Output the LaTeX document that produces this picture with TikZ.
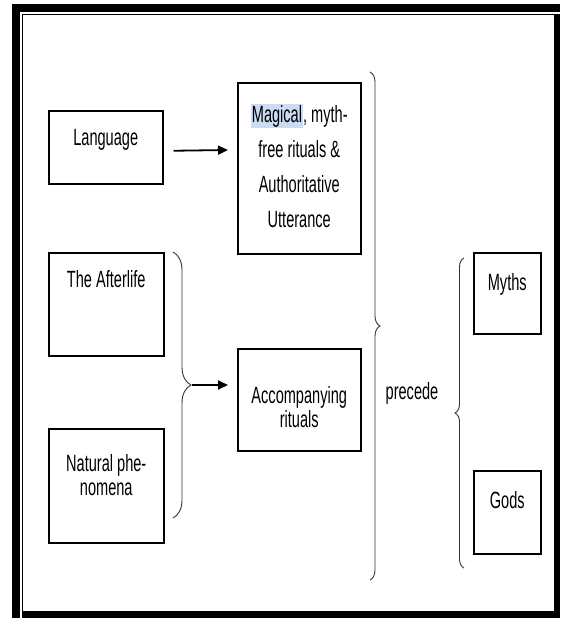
\documentclass[tikz,border=0pt]{standalone}
\usepackage{fontspec}
\setmainfont{Liberation Sans}[FakeStretch=0.62]
\usetikzlibrary{arrows.meta,calc,decorations.pathreplacing}
\definecolor{hl}{HTML}{C9DCF3}
\setlength{\fboxsep}{1pt}
\begin{document}
\begin{tikzpicture}[x=1pt,y=-1pt,
  box/.style={draw=black,line width=1.5pt,rectangle,inner sep=0pt,anchor=north west},
  lbl/.style={font=\fontsize{23.5}{24}\selectfont,inner sep=0pt,align=center,anchor=base},
  arr/.style={line width=1.8pt,-{Triangle[length=10pt,width=9pt]}},
  brc/.style={draw=black!80,line width=0.9pt,decorate,decoration={brace,amplitude=#1}}]
\useasboundingbox (0,0) rectangle (560,618);
% frame
\fill[black] (12,4) rectangle (560,618);
\fill[white] (20,12) rectangle (22,618);
\fill[white] (20,12) rectangle (560,14);
\fill[white] (23.3,15.3) rectangle (554,611);
% boxes
\node[box,minimum width=114pt,minimum height=73pt] (lang) at (48,110) {};
\node[box,minimum width=123pt,minimum height=171pt] (mag) at (237,82) {};
\node[box,minimum width=115pt,minimum height=103pt] (after) at (48,252) {};
\node[box,minimum width=115pt,minimum height=114pt] (nat) at (48,428) {};
\node[box,minimum width=123pt,minimum height=102pt] (acc) at (237,348) {};
\node[box,minimum width=67pt,minimum height=81pt] (myths) at (473,252) {};
\node[box,minimum width=67pt,minimum height=83pt] (gods) at (473,470) {};
% texts
\node[lbl] (langt) at ($(lang.north)+(0,35)$) {Language};
\node[lbl,font=\fontsize{23.5}{35}\selectfont] (magt) at ($(mag.north)+(0,145)$) {\colorbox{hl}{Magical}, myth-\\free rituals \&\\Authoritative\\Utterance};
\node[lbl] (aftert) at ($(after.north)+(0,35)$) {The Afterlife};
\node[lbl] (natt) at ($(nat.north)+(0,67)$) {Natural phe-\\nomena};
\node[lbl] (acct) at ($(acc.north)+(0,79)$) {Accompanying\\rituals};
\node[lbl] (mytht) at ($(myths.north)+(0,38)$) {Myths};
\node[lbl] (godst) at ($(gods.north)+(0,38)$) {Gods};
\node[lbl] (prec) at (412,399) {precede};
% braces
\coordinate (b1t) at (173,252);
\coordinate (b1b) at (173,518);
\coordinate (b1tip) at (192,385);
\coordinate (b2t) at (370,72);
\coordinate (b2b) at (370,580);
\coordinate (b3t) at (464,258);
\coordinate (b3b) at (464,568);
\draw[brc=18pt] (b1t) -- (b1b);
\draw[brc=10pt] (b2t) -- (b2b);
\draw[brc=9pt] (b3b) -- (b3t);
% arrows
\coordinate (a1s) at ($(lang.east)+(10,3.5)$);
\coordinate (a1e) at ($(mag.north west)+(-9,68)$);
\draw[arr] (a1s) -- (a1e);
\coordinate (a2e) at ($(acc.north west)+(-9,37)$);
\draw[arr] (b1tip) -- (a2e);
\end{tikzpicture}
\end{document}
